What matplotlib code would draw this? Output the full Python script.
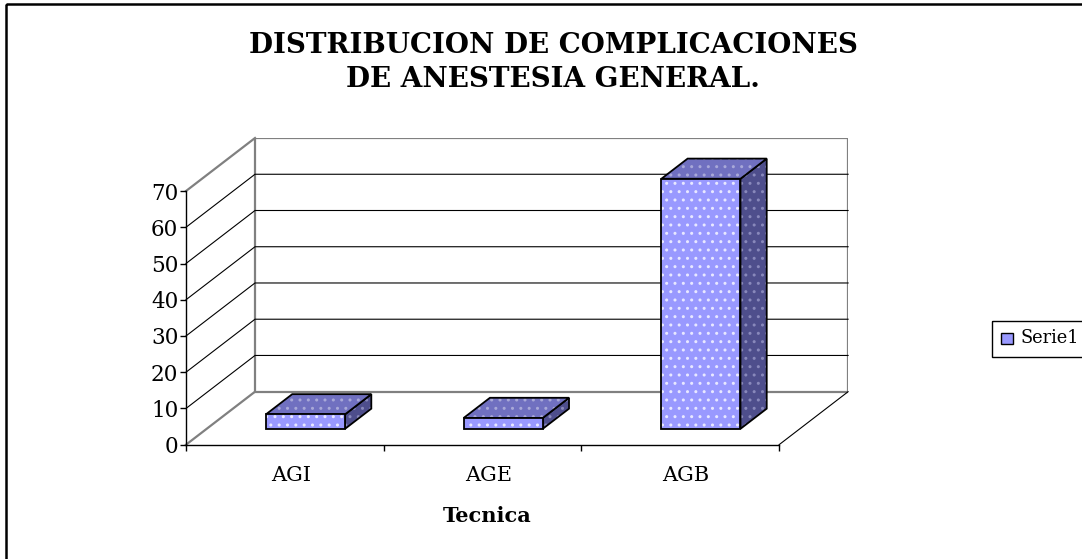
import numpy as np
import matplotlib.pyplot as plt
from matplotlib.patches import Polygon, Rectangle

plt.rcParams['font.family'] = ['DejaVu Serif']

categories = ['AGI', 'AGE', 'AGB']
values = [4, 3, 69]
y_ticks = [0, 10, 20, 30, 40, 50, 60, 70]
series_name = 'Serie1'
title = 'DISTRIBUCION DE COMPLICACIONES\nDE ANESTESIA GENERAL.'
x_title = 'Tecnica'

W, H = 1082, 559
fig = plt.figure(figsize=(W / 100, H / 100), dpi=100)

# background axes in pixel units (title, legend, frame)
bg = fig.add_axes([0, 0, 1, 1], zorder=0)
bg.set_xlim(0, W)
bg.set_ylim(H, 0)
bg.axis('off')

# oblique depth of the 3d box, in data units
ymax = y_ticks[-1]
ncat = len(categories)
DX = 69 / 197.7
DY = 53 / 3.624

ax = fig.add_axes([186 / W, (H - 444.7) / H, (ncat + DX) * 197.7 / W, (ymax + DY) * 3.624 / H], zorder=1)
ax.patch.set_visible(False)
ax.set_xlim(0, ncat + DX)
ax.set_ylim(0, ymax + DY)
for s in ['top', 'right']:
    ax.spines[s].set_visible(False)
ax.spines['left'].set_bounds(0, ymax)
ax.spines['bottom'].set_bounds(0, ncat)
ax.spines['left'].set_linewidth(1)
ax.spines['bottom'].set_linewidth(1)

ax.set_yticks(y_ticks)
ax.set_yticklabels([str(t) for t in y_ticks], fontsize=15.5)
ax.tick_params(axis='y', length=4.5, width=1, pad=1)
ax.set_xticks(range(ncat + 1))
ax.set_xticklabels([])
ax.set_xticks([i + 0.53 for i in range(ncat)], minor=True)
ax.set_xticklabels(categories, minor=True, fontsize=15)
ax.tick_params(axis='x', which='major', length=4, width=1)
ax.tick_params(axis='x', which='minor', length=0, pad=15)


def P(x, y, d):
    return (x + DX * d, y + DY * d)


grey = '#808080'
# back wall and left wall
ax.add_patch(Polygon([P(0, 0, 1), P(ncat, 0, 1), P(ncat, ymax, 1), P(0, ymax, 1)],
                     closed=True, fill=False, edgecolor=grey, lw=1.6, zorder=1))
for a, b in [(P(0, ymax, 0), P(0, ymax, 1)), (P(0, 0, 0), P(0, 0, 1))]:
    ax.plot([a[0], b[0]], [a[1], b[1]], color=grey, lw=1.6, zorder=1, clip_on=False)
ax.plot([ncat, ncat + DX], [0, DY], color='black', lw=0.8, zorder=1, clip_on=False)

for v in y_ticks[1:-1]:
    a, b, c = P(0, v, 0), P(0, v, 1), P(ncat, v, 1)
    ax.plot([a[0], b[0], c[0]], [a[1], b[1], c[1]], color='black', lw=0.8, zorder=1, clip_on=False)

# bars
x0o, x1o, d0, d1 = 0.3, 0.7, 0.3, 0.68
front_c, top_c, side_c = '#9999FF', '#7070C0', '#4E4E8C'
for i, v in enumerate(values):
    x0, x1 = i + x0o, i + x1o
    side = [P(x1, 0, d0), P(x1, 0, d1), P(x1, v, d1), P(x1, v, d0)]
    top = [P(x0, v, d0), P(x1, v, d0), P(x1, v, d1), P(x0, v, d1)]
    front = [P(x0, 0, d0), P(x1, 0, d0), P(x1, v, d0), P(x0, v, d0)]
    for poly, col, dot in [(side, side_c, '#8888BB'), (top, top_c, '#A8A8D8'), (front, front_c, '#E8E8FF')]:
        ax.add_patch(Polygon(poly, closed=True, facecolor=col, edgecolor='none', zorder=3))
        ax.add_patch(Polygon(poly, closed=True, facecolor='none', edgecolor=dot, hatch='..', lw=0, zorder=3))
        ax.add_patch(Polygon(poly, closed=True, facecolor='none', edgecolor='black', lw=1.3, zorder=3))

# title and axis title
bg.text(553, 62.5, title, ha='center', va='center', fontsize=20, fontweight='bold', linespacing=1.3)
bg.text(487, 516, x_title, ha='center', va='center', fontsize=15, fontweight='bold')

# legend
bg.add_patch(Rectangle((991.5, 320.5), 110, 36, fill=False, edgecolor='black', lw=1))
bg.add_patch(Rectangle((1000.5, 332.5), 12, 11, facecolor=front_c, edgecolor='black', lw=1))
bg.text(1020, 338, series_name, ha='left', va='center', fontsize=12.8)

# chart frame
bg.add_patch(Rectangle((6, 4), 1200, 700, fill=False, edgecolor='black', lw=1.8))

fig.savefig('out.png', dpi=100)
